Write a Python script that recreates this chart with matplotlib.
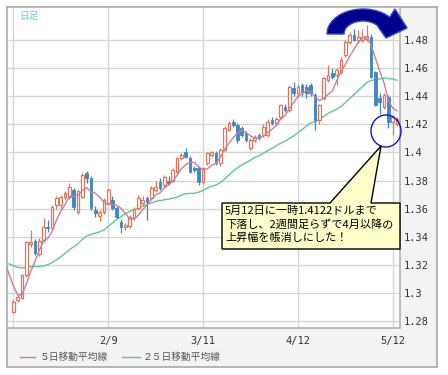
import numpy as np
import pandas as pd
import matplotlib
matplotlib.use("Agg")
import matplotlib.pyplot as plt
from matplotlib.patches import Rectangle, Polygon, Ellipse

plt.rcParams['font.family'] = ['Noto Sans CJK JP', 'DejaVu Sans']

# ----------------------------
# Datos (EUR/USD diario)
# ----------------------------
opens = [1.2866, 1.2950, 1.2963, 1.3127, 1.3350, 1.3370, 1.3280, 1.3376, 1.3470, 1.3460,
         1.3625, 1.3625, 1.3680, 1.3684, 1.3733, 1.3578, 1.3684, 1.3850, 1.3817, 1.3590,
         1.3550, 1.3578, 1.3640, 1.3660, 1.3603, 1.3507, 1.3470, 1.3476, 1.3530, 1.3603,
         1.3640, 1.3675, 1.3675, 1.3730, 1.3790, 1.3767, 1.3800, 1.3800, 1.3862, 1.3960,
         1.4005, 1.3960, 1.3890, 1.3890, 1.3790, 1.3925, 1.3980, 1.3995, 1.3925, 1.4020,
         1.4160, 1.4218, 1.4195, 1.4174, 1.4140, 1.4030, 1.4090, 1.4124, 1.4124, 1.4124,
         1.4230, 1.4210, 1.4254, 1.4325, 1.4300, 1.4456, 1.4420, 1.4480, 1.4468, 1.4480,
         1.4409, 1.4230, 1.4385, 1.4515, 1.4565, 1.4550, 1.4575, 1.4693, 1.4788, 1.4836,
         1.4800, 1.4800, 1.4805, 1.4824, 1.4575, 1.4387, 1.4325, 1.4396, 1.4218, 1.4200]
highs = [1.2950, 1.2990, 1.3135, 1.3370, 1.3447, 1.3385, 1.3390, 1.3530, 1.3520, 1.3625,
         1.3690, 1.3700, 1.3725, 1.3780, 1.3745, 1.3735, 1.3850, 1.3870, 1.3830, 1.3620,
         1.3590, 1.3675, 1.3745, 1.3690, 1.3615, 1.3525, 1.3500, 1.3555, 1.3610, 1.3700,
         1.3690, 1.3690, 1.3760, 1.3800, 1.3815, 1.3840, 1.3830, 1.3890, 1.3970, 1.3995,
         1.4030, 1.3975, 1.3905, 1.3900, 1.3895, 1.4005, 1.4010, 1.4010, 1.4030, 1.4185,
         1.4225, 1.4240, 1.4210, 1.4190, 1.4155, 1.4100, 1.4125, 1.4140, 1.4200, 1.4235,
         1.4250, 1.4255, 1.4345, 1.4345, 1.4480, 1.4500, 1.4490, 1.4495, 1.4490, 1.4495,
         1.4420, 1.4345, 1.4535, 1.4620, 1.4600, 1.4600, 1.4680, 1.4800, 1.4860, 1.4880,
         1.4870, 1.4880, 1.4907, 1.4840, 1.4580, 1.4420, 1.4420, 1.4410, 1.4265, 1.4255]
lows = [1.2855, 1.2935, 1.2955, 1.3110, 1.3330, 1.3270, 1.3265, 1.3360, 1.3430, 1.3450,
        1.3600, 1.3600, 1.3660, 1.3670, 1.3590, 1.3565, 1.3675, 1.3780, 1.3590, 1.3540,
        1.3510, 1.3565, 1.3630, 1.3590, 1.3530, 1.3425, 1.3445, 1.3460, 1.3520, 1.3590,
        1.3620, 1.3520, 1.3660, 1.3715, 1.3730, 1.3750, 1.3770, 1.3790, 1.3850, 1.3945,
        1.3960, 1.3850, 1.3860, 1.3770, 1.3775, 1.3910, 1.3965, 1.3910, 1.3900, 1.4010,
        1.4150, 1.4180, 1.4070, 1.4110, 1.4075, 1.4015, 1.4075, 1.4090, 1.4110, 1.4110,
        1.4195, 1.4195, 1.4240, 1.4285, 1.4290, 1.4400, 1.4395, 1.4400, 1.4390, 1.4405,
        1.4160, 1.4205, 1.4370, 1.4500, 1.4520, 1.4480, 1.4560, 1.4680, 1.4775, 1.4790,
        1.4780, 1.4785, 1.4790, 1.4530, 1.4330, 1.4270, 1.4310, 1.4174, 1.4122, 1.4185]
closes = [1.2937, 1.2970, 1.3127, 1.3364, 1.3360, 1.3283, 1.3370, 1.3470, 1.3460, 1.3613,
          1.3675, 1.3684, 1.3710, 1.3756, 1.3613, 1.3722, 1.3839, 1.3820, 1.3603, 1.3570,
          1.3578, 1.3660, 1.3733, 1.3603, 1.3540, 1.3470, 1.3480, 1.3540, 1.3600, 1.3675,
          1.3660, 1.3650, 1.3745, 1.3756, 1.3745, 1.3827, 1.3780, 1.3875, 1.3960, 1.3980,
          1.3970, 1.3860, 1.3875, 1.3790, 1.3890, 1.3995, 1.4000, 1.3925, 1.4020, 1.4174,
          1.4210, 1.4195, 1.4088, 1.4124, 1.4090, 1.4090, 1.4112, 1.4100, 1.4183, 1.4218,
          1.4210, 1.4240, 1.4337, 1.4300, 1.4468, 1.4420, 1.4468, 1.4432, 1.4420, 1.4420,
          1.4230, 1.4337, 1.4527, 1.4550, 1.4540, 1.4587, 1.4658, 1.4788, 1.4836, 1.4800,
          1.4825, 1.4825, 1.4830, 1.4539, 1.4337, 1.4359, 1.4409, 1.4218, 1.4254, 1.4240]

# cierres anteriores (solo para calcular las medias móviles del borde izquierdo)
prior_closes = [1.3280, 1.3260, 1.3240, 1.3260, 1.3250, 1.3230, 1.3390, 1.3370, 1.3220,
                1.3230, 1.3180, 1.3150, 1.3120, 1.3090, 1.3100, 1.3150, 1.3090, 1.3230,
                1.3290, 1.3380, 1.3340, 1.3305, 1.3125, 1.2985, 1.2910]

tick_idx = [0, 22, 44, 66, 88]
tick_labels = ['', '2/9', '3/11', '4/12', '5/12']
y_ticks = [1.28, 1.30, 1.32, 1.34, 1.36, 1.38, 1.40, 1.42, 1.44, 1.46, 1.48]
y_labels = ['1.28', '1.3', '1.32', '1.34', '1.36', '1.38', '1.4', '1.42', '1.44', '1.46', '1.48']

note = "5月12日に一時1.4122ドルまで\n下落し、2週間足らずで4月以降の\n上昇幅を帳消しにした！"

# ----------------------------
# Cálculos
# ----------------------------
o = np.array(opens); h = np.array(highs); l = np.array(lows); c = np.array(closes)
x = np.arange(len(c))
all_c = pd.Series(np.concatenate([prior_closes, closes]))
x_all = np.arange(-len(prior_closes), len(closes))
ma5 = all_c.rolling(5).mean()
ma25 = all_c.rolling(25).mean()

up = c >= o
col_up = '#e2755a'
col_dn = '#3f86c4'

# ----------------------------
# Figura
# ----------------------------
W, H = 448, 375
fig = plt.figure(figsize=(W / 100, H / 100), dpi=100)
fig.patch.set_facecolor('white')

# capa de fondo en píxeles (panel gris)
bg = fig.add_axes([0, 0, 1, 1], zorder=0)
bg.set_xlim(0, W); bg.set_ylim(H, 0); bg.axis('off')
bg.add_patch(Rectangle((7, 7), 430, 360, facecolor='#f3f3f3', edgecolor='#a8a8a8', lw=1.2))

ax = fig.add_axes([7.3 / W, 1 - 328 / H, (400 - 7.3) / W, (328 - 7.3) / H], zorder=1)
ax.set_facecolor('white')
ax.set_xlim(-1.4, 89.7)
ax.set_ylim(1.275, 1.5033)

ax.set_yticks(y_ticks)
ax.set_yticklabels(y_labels)
ax.set_xticks(tick_idx)
ax.set_xticklabels(tick_labels)
ax.yaxis.tick_right()
ax.tick_params(axis='both', length=0, labelsize=7.5, colors='#333333')
ax.tick_params(axis='y', pad=3)
ax.tick_params(axis='x', pad=6)
for t in ax.get_xticklabels() + ax.get_yticklabels():
    t.set_family('DejaVu Sans Mono')
ax.grid(True, color='#d6d6d6', lw=1)
ax.set_axisbelow(True)
for s in ax.spines.values():
    s.set_color('#b0b0b0')
    s.set_linewidth(1.2)

# medias móviles
ax.plot(x_all, ma25, color='#5ccb8c', lw=1, zorder=2)
ax.plot(x_all, ma5, color='#c87fa0', lw=1, zorder=5)

# velas
ax.vlines(x[up], l[up], h[up], color=col_up, lw=0.9, zorder=3)
ax.vlines(x[~up], l[~up], h[~up], color=col_dn, lw=0.9, zorder=3)
ax.bar(x[up], c[up] - o[up], bottom=o[up], width=0.62, facecolor='white',
       edgecolor=col_up, linewidth=0.9, zorder=4)
ax.bar(x[~up], o[~up] - c[~up], bottom=c[~up], width=0.62, facecolor=col_dn,
       edgecolor=col_dn, linewidth=0.6, zorder=4)

# ----------------------------
# Anotaciones (capa superior en píxeles)
# ----------------------------
top = fig.add_axes([0, 0, 1, 1], zorder=3)
top.set_xlim(0, W); top.set_ylim(H, 0); top.axis('off')
top.patch.set_alpha(0)

top.text(19, 16, '日足', color='#6fcbf5', fontsize=7, va='center', ha='left')

# flecha curva
cx, cy = 363, 34
th = np.radians(np.linspace(180, 42, 40))
outer = np.c_[cx + 36 * np.cos(th), cy - 25 * np.sin(th)]
inner = np.c_[cx + 19 * np.cos(th[::-1]), cy - 13 * np.sin(th[::-1])]
head = np.array([[395, 9], [407, 28], [386, 38]])
arrow = np.vstack([outer, head, inner])
top.add_patch(Polygon(arrow, closed=True, facecolor='#00008e', edgecolor='#2a48c8', lw=1))

# círculo azul
top.add_patch(Ellipse((386, 131), 30, 32, facecolor='none', edgecolor='#1010dd', lw=1))

# globo de texto
callout = [(222, 203), (330, 203), (381, 146), (371, 203), (400, 203), (400, 249), (222, 249)]
top.add_patch(Polygon(callout, closed=True, facecolor='#ffffcc', edgecolor='black', lw=1))
top.text(225, 206, note, fontsize=8, va='top', ha='left', color='black', linespacing=1.33)

# leyenda
top.plot([20, 35], [357, 357], color='#c87fa0', lw=1)
top.text(40, 357, '５日移動平均線', fontsize=7, color='#555555', va='center')
top.plot([122, 140], [357, 357], color='#5ccb8c', lw=1)
top.text(143, 357, '２５日移動平均線', fontsize=7, color='#555555', va='center')

fig.savefig('out.png', dpi=100)
